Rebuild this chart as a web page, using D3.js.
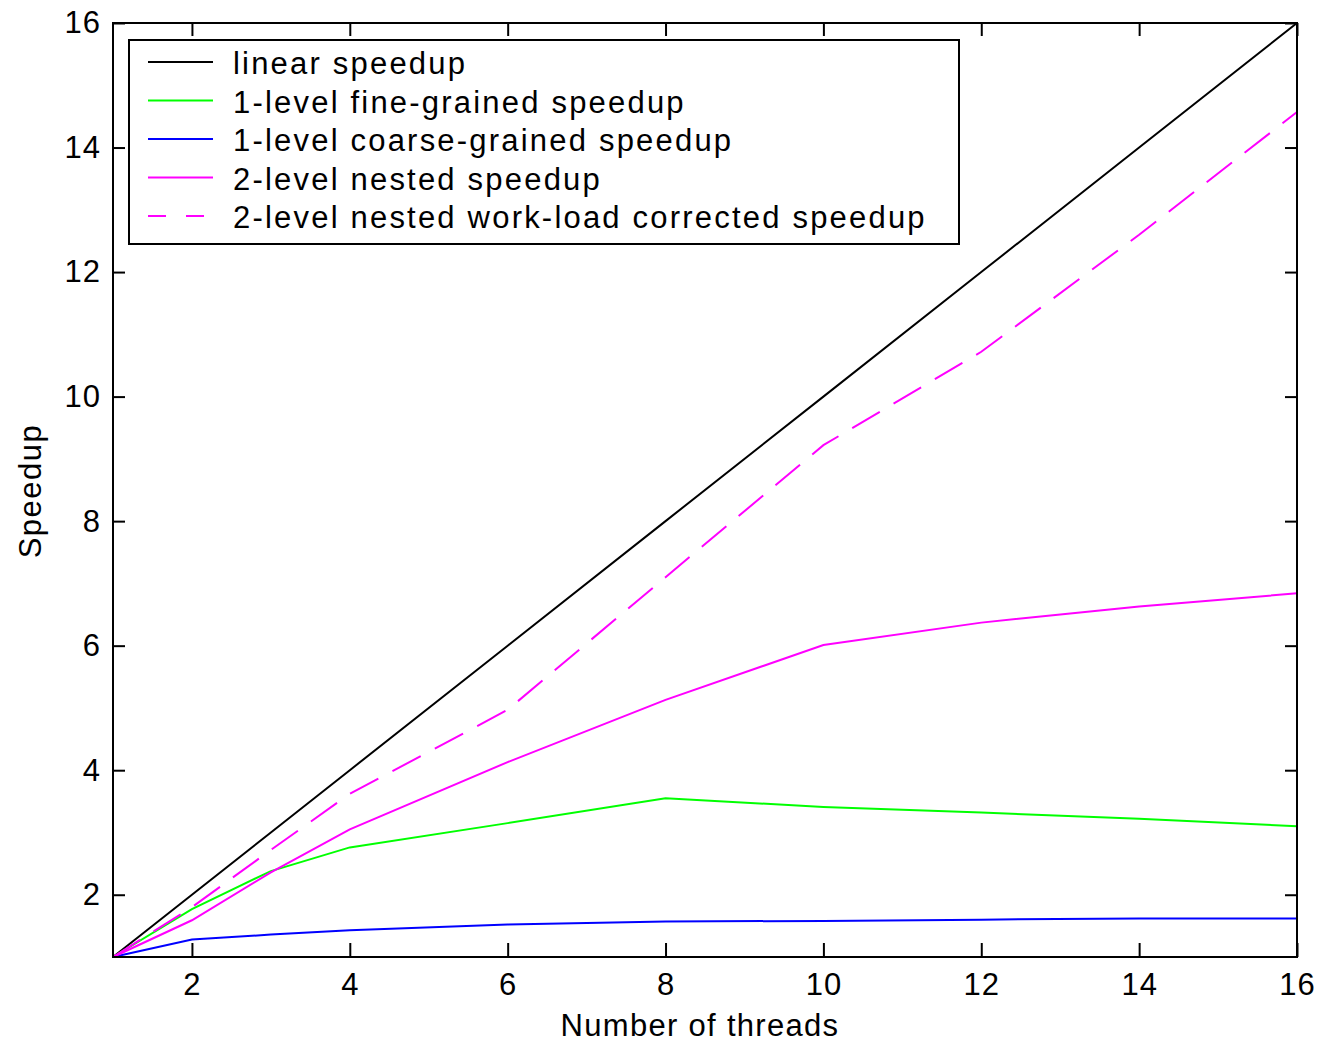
<!DOCTYPE html>
<html>
<head>
<meta charset="utf-8">
<script src="https://cdn.jsdelivr.net/npm/d3@7"></script>
<style>
  body { margin: 0; background: #fff; }
  text { font-family: "Liberation Sans", Arial, sans-serif; fill: #000; }
</style>
</head>
<body>
<div id="chart"></div>
<script>
// data
var threads   = [1, 2, 3, 4, 6, 8, 10, 12, 14, 16]
var linear    = [1, 2, 3, 4, 6, 8, 10, 12, 14, 16]
var fine      = [1, 1.77, 2.38, 2.76, 3.15, 3.55, 3.41, 3.32, 3.22, 3.10]
var coarse    = [1, 1.28, 1.36, 1.43, 1.52, 1.57, 1.58, 1.60, 1.62, 1.62]
var nested    = [1, 1.59, 2.36, 3.05, 4.13, 5.13, 6.01, 6.37, 6.63, 6.84]
var corrected = [1, 1.80, 2.72, 3.62, 4.97, 7.10, 9.22, 10.72, 12.60, 14.57]

var seriesNames = [
  "linear speedup",
  "1-level fine-grained speedup",
  "1-level coarse-grained speedup",
  "2-level nested speedup",
  "2-level nested work-load corrected speedup"
]
var seriesColors = ["#000000", "#00ff00", "#0000ff", "#ff00ff", "#ff00ff"]
var seriesDash = [null, null, null, null, "32,16"]
var xTicks = [2, 4, 6, 8, 10, 12, 14, 16]
var yTicks = [2, 4, 6, 8, 10, 12, 14, 16]

var series = [linear, fine, coarse, nested, corrected]

var W = 1322, H = 1042
var m = {left: 113, right: 25, top: 23, bottom: 85}
var iw = W - m.left - m.right
var ih = H - m.top - m.bottom

var svg = d3.select("#chart").append("svg")
  .attr("width", W)
  .attr("height", H)

var g = svg.append("g").attr("transform", `translate(${m.left},${m.top})`)

var x = d3.scaleLinear().domain([1, 16]).range([0, iw])
var y = d3.scaleLinear().domain([1, 16]).range([ih, 0])

// axes, ticks pointing inwards on all four sides
var fontSize = 31

function styleAxis(sel) {
  sel.select(".domain").remove()
  sel.selectAll(".tick line").attr("stroke", "#000").attr("stroke-width", 2)
  sel.selectAll(".tick text").attr("font-size", fontSize).attr("font-family", null)
    .attr("fill", "#000").attr("letter-spacing", 1)
}

g.append("g")
  .attr("transform", `translate(0,${ih})`)
  .call(d3.axisBottom(x).tickValues(xTicks).tickSizeInner(-14).tickSizeOuter(0).tickPadding(16))
  .call(styleAxis)

g.append("g")
  .call(d3.axisTop(x).tickValues(xTicks).tickSizeInner(-13).tickSizeOuter(0).tickFormat(""))
  .call(styleAxis)

g.append("g")
  .call(d3.axisLeft(y).tickValues(yTicks).tickSizeInner(-12).tickSizeOuter(0).tickPadding(12))
  .call(styleAxis)

g.append("g")
  .attr("transform", `translate(${iw},0)`)
  .call(d3.axisRight(y).tickValues(yTicks).tickSizeInner(-12).tickSizeOuter(0).tickFormat(""))
  .call(styleAxis)

// series lines
var line = d3.line()
  .x((d, i) => x(threads[i]))
  .y(d => y(d))

series.forEach(function (vals, k) {
  g.append("path")
    .datum(vals)
    .attr("d", line)
    .attr("fill", "none")
    .attr("stroke", seriesColors[k])
    .attr("stroke-width", 2)
    .attr("stroke-dasharray", seriesDash[k])
})

// frame
g.append("rect")
  .attr("width", iw)
  .attr("height", ih)
  .attr("fill", "none")
  .attr("stroke", "#000")
  .attr("stroke-width", 2)

// axis titles
svg.append("text")
  .attr("x", 700)
  .attr("y", 1036)
  .attr("text-anchor", "middle")
  .attr("font-size", fontSize)
  .attr("letter-spacing", 1.3)
  .text("Number of threads")

svg.append("text")
  .attr("transform", "translate(41,491) rotate(-90)")
  .attr("text-anchor", "middle")
  .attr("font-size", fontSize)
  .attr("letter-spacing", 1.5)
  .text("Speedup")

// legend
var leg = svg.append("g").attr("transform", "translate(129,40)")
leg.append("rect")
  .attr("width", 830)
  .attr("height", 204)
  .attr("fill", "#fff")
  .attr("stroke", "#000")
  .attr("stroke-width", 2)

seriesNames.forEach(function (name, k) {
  var ly = 22 + k * 38.5
  leg.append("line")
    .attr("x1", 19).attr("x2", 84)
    .attr("y1", ly).attr("y2", ly)
    .attr("stroke", seriesColors[k])
    .attr("stroke-width", 2)
    .attr("stroke-dasharray", seriesDash[k] ? "18,20" : null)
  leg.append("text")
    .attr("x", 104)
    .attr("y", ly + 12)
    .attr("font-size", fontSize)
    .attr("letter-spacing", 2.2)
    .text(name)
})
</script>
</body>
</html>
